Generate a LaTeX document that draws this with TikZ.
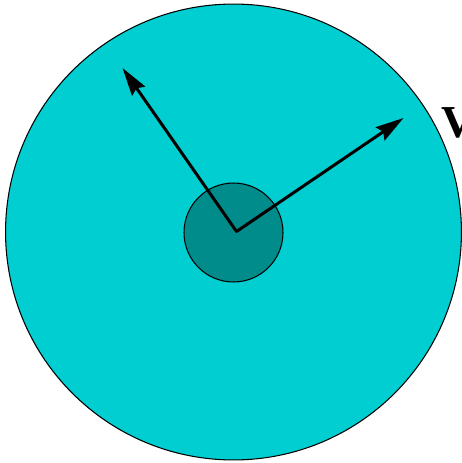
\documentclass[tikz,border=0pt]{standalone}
\usepackage{fontspec}
\setmainfont{Liberation Serif}
\usepackage{tikz}
\usetikzlibrary{arrows.meta}
\definecolor{discfill}{RGB}{0, 206, 209}
\definecolor{corefill}{RGB}{0, 140, 138}
\begin{document}
\begin{tikzpicture}[x=0.02cm, y=-0.02cm,
    disc/.style={circle, draw=black, line width=0.6pt, inner sep=0pt},
    vec/.style={-{Stealth[length=16pt, width=9pt, inset=2pt]}, line width=1.7pt, line cap=round, line join=round},
    label/.style={font=\fontsize{26}{30}\selectfont\bfseries, inner sep=0pt, anchor=base west}
]
    \useasboundingbox (0,0) rectangle (461,463);
    % Outer disc and core
    \node[disc, fill=discfill, minimum size=9.12cm] (outer) at (233.5,232) {};
    \node[disc, fill=corefill, minimum size=1.98cm] (core) at (233.5,232.5) {};

    % Vectors
    \coordinate (o) at (236.5,231.5);
    \coordinate (tipa) at (122.5,68);
    \coordinate (tipb) at (403.5,118);
    \draw[vec] (o) -- (tipa);
    \draw[vec] (o) -- (tipb);

    % Label
    \node[label] (v) at (441,137) {V};
\end{tikzpicture}
\end{document}
